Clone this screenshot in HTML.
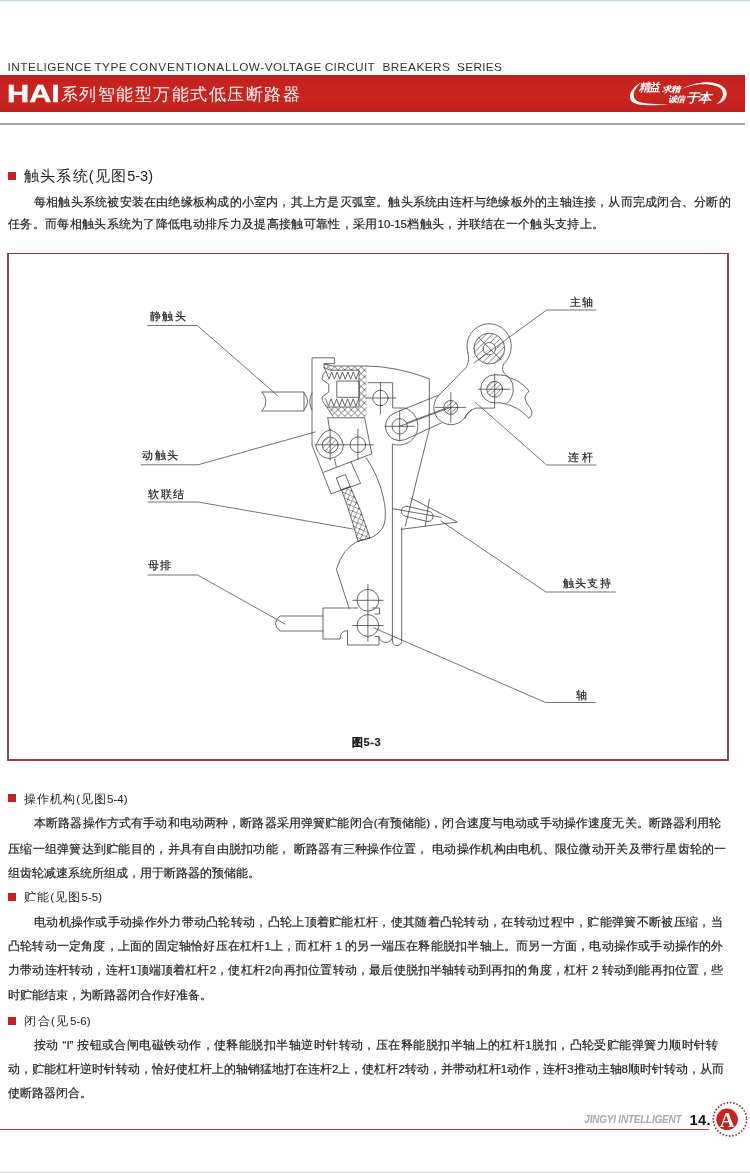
<!DOCTYPE html>
<html lang="zh">
<head>
<meta charset="utf-8">
<title>HAI系列智能型万能式低压断路器</title>
<style>
html,body{margin:0;padding:0;}
body{width:750px;height:1173px;position:relative;overflow:hidden;background:#fff;font-family:"Liberation Sans",sans-serif;color:#2b2b2b;}
.abs{position:absolute;}
.edge{position:absolute;left:0;width:750px;height:2px;background:#d3e3ea;}
.en{position:absolute;left:8px;top:58.9px;width:495px;height:16px;line-height:16px;font-size:11.8px;color:#333;white-space:nowrap;}
.en span{position:absolute;top:0;}
.banner{position:absolute;left:0;top:74.7px;width:744.5px;height:36.9px;background:linear-gradient(#bf2020,#cb231d 40%,#cb231d 60%,#bf2020);}
.gline{position:absolute;left:0;top:122.8px;width:744.5px;height:1.9px;background:#a3a3a3;}
.hai{position:absolute;left:7px;top:81.5px;height:24px;line-height:24px;font-size:24.2px;font-weight:bold;color:#fff;-webkit-text-stroke:0.45px #fff;transform-origin:0 50%;transform:scaleX(1.27);white-space:nowrap;}
.title{position:absolute;left:61px;top:81.5px;width:238.5px;height:24px;line-height:24px;font-size:16.5px;color:#fff;white-space:nowrap;text-align:justify;text-align-last:justify;}
.sq{position:absolute;left:8px;width:8px;height:8px;background:#c8201f;}
.h1{position:absolute;left:24px;height:18px;line-height:18px;font-size:14.5px;color:#222;white-space:nowrap;text-align:justify;text-align-last:justify;}
.h2{position:absolute;left:24px;height:16px;line-height:16px;font-size:11.5px;color:#222;white-space:nowrap;text-align:justify;text-align-last:justify;}
.ln{position:absolute;height:16px;line-height:16px;font-size:11.5px;color:#222;-webkit-text-stroke:0.18px #222;white-space:nowrap;text-align:justify;text-align-last:justify;}
.box{position:absolute;left:7px;top:252.6px;width:718.2px;height:505.5px;border-style:solid;border-width:1.7px 2.1px 2px 2px;border-color:#aa2a33 #a3444b #a63a42 #93484f;}
.lab{position:absolute;height:14px;line-height:14px;font-size:11px;color:#1c1c1c;white-space:nowrap;text-align:justify;text-align-last:justify;-webkit-text-stroke:0.2px #1c1c1c;}
.fline{position:absolute;left:0;top:1128.6px;width:709px;height:1.3px;background:#c23a35;}
.jy{position:absolute;left:584.3px;top:1113px;width:98px;height:14px;line-height:14px;font-size:10px;font-style:italic;font-weight:bold;color:#a9a9a9;white-space:nowrap;letter-spacing:-0.22px;}
.pg{position:absolute;left:689.5px;top:1110px;height:20px;line-height:20px;font-size:14.6px;font-weight:bold;color:#111;white-space:nowrap;letter-spacing:0.4px;}
</style>
</head>
<body>
<div id="pg" style="position:absolute;left:0;top:0;width:750px;height:1173px;will-change:transform">
<div class="edge" style="top:0;height:5px;background:linear-gradient(#c8d5da 0,#cfdbe0 1px,#f1f8fb 1.3px,#fff 5px)"></div>
<div class="edge" style="top:1170.6px;height:2.4px;background:linear-gradient(#fff 0,#e8f1f3 1px,#c5d9de 1.3px,#c5d9de 2.4px)"></div>

<div class="en"><span style="left:-0.6px;letter-spacing:0.54px">INTELIGENCE</span> <span style="left:86.4px;letter-spacing:0.5px">TYPE</span> <span style="left:121.8px;letter-spacing:0.78px">CONVENTIONAL</span> <span style="left:224.2px;letter-spacing:0.47px">LOW-VOLTAGE</span> <span style="left:316.7px;letter-spacing:0.38px">CIRCUIT</span> <span style="left:374.5px;letter-spacing:0.44px">BREAKERS</span> <span style="left:449.1px;letter-spacing:0.28px">SERIES</span></div>
<div class="banner"></div>
<div class="gline"></div>
<div class="hai">HAI</div>
<svg class="abs" style="left:620px;top:74px" width="125" height="38" viewBox="620 74 125 38">
<g fill="#fff" font-family="'Liberation Serif',serif" font-weight="bold" font-style="italic">
<path d="M641.5,82.5C630,88 626.5,99 634,103C640,106 655,105.5 669,104.2C655,104.4 642,103.8 636.8,100.8C631.5,97.5 633,89 641.5,82.5Z"/>
<path d="M682,88.8C692,83.4 706,80.8 716,83.3C726.5,86 729.5,94 724.5,99.8C722,102.3 719.5,103.6 716.5,104.2C721,101 724.3,95.5 722.3,90.8C720,85.3 708,83.2 698,84.6C691,85.6 686,87.2 682,88.8Z"/>
<text x="638.5" y="91.3" font-size="11.2" textLength="21.5" lengthAdjust="spacingAndGlyphs">精益</text>
<text x="662" y="91.6" font-size="8.4" textLength="18" lengthAdjust="spacingAndGlyphs">求精</text>
<text x="667.5" y="101.6" font-size="8.4" textLength="17" lengthAdjust="spacingAndGlyphs">诚信</text>
<text x="685.5" y="102.2" font-size="12.4" textLength="25.8" lengthAdjust="spacingAndGlyphs">于本</text>
</g></svg>
<div class="title">系列智能型万能式低压断路器</div>

<!-- section 1 -->
<div class="sq" style="top:172px"></div>
<div class="h1" style="top:167px;width:129px">触头系统(见图5-3)</div>
<div class="ln" style="left:34px;top:194px;width:696.5px">每相触头系统被安装在由绝缘板构成的小室内，其上方是灭弧室。触头系统由连杆与绝缘板外的主轴连接，从而完成闭合、分断的</div>
<div class="ln" style="left:8px;top:216px;width:596px">任务。而每相触头系统为了降低电动排斥力及提高接触可靠性，采用10-15档触头，并联结在一个触头支持上。</div>

<div class="box"></div>
<!--DIAGRAM-->
<svg class="abs" style="left:0;top:0" width="750" height="1173" viewBox="0 0 750 1173" fill="none" stroke="#444" stroke-width="0.8" stroke-linecap="round" stroke-linejoin="round">
<defs>
<pattern id="xh" width="6.6" height="6.6" patternUnits="userSpaceOnUse" patternTransform="translate(1.5 0.5)"><path d="M0,0L6.6,6.6M6.6,0L0,6.6" stroke="#444" stroke-width="0.7"/></pattern>
<pattern id="xs" width="6.4" height="6.4" patternUnits="userSpaceOnUse" patternTransform="rotate(-22 350 510)"><path d="M0,0L6.4,6.4M6.4,0L0,6.4" stroke="#444" stroke-width="0.7"/></pattern>
<pattern id="dh" width="6.2" height="6.2" patternUnits="userSpaceOnUse" patternTransform="translate(2 0)"><path d="M-1,1L1,-1M0,6.2L6.2,0M5.2,7.2L7.2,5.2" stroke="#444" stroke-width="0.7"/></pattern>
<pattern id="dh2" width="5.2" height="5.2" patternUnits="userSpaceOnUse" patternTransform="translate(1 0)"><path d="M-1,1L1,-1M0,5.2L5.2,0M4.2,6.2L6.2,4.2" stroke="#444" stroke-width="0.65"/></pattern>
</defs>
<g stroke-width="0.75">
<path d="M147.8,325.5H197.3L278,396"/>
<path d="M141,464.8H198L315,432"/>
<path d="M147.8,502H198L353,529"/>
<path d="M147.8,575H197.5L285,624"/>
<path d="M596,310H546.6L474,363"/>
<path d="M596,465H546.6L475,402"/>
<path d="M615.5,592H546L441,521"/>
<path d="M595,702.5H545.5L374,628"/>
</g>
<path d="M262,392H304V411H262M262,392Q270,401.5 262,411"/>
<path d="M304,393Q311.5,401.5 304,410M312,393Q307.5,401.5 312,410"/>
<path d="M312,445V357.8H334.4V363.7H324.1V367.4L326,371.5Q321.5,374 322.7,378.5V380L328.8,384.2V392.1L322.3,396.8V400.5L333,416.4"/>
<path fill="url(#xh)" stroke="none" fill-rule="evenodd" d="M324.1,363.7L332,366H366.6V416.4H333L322.3,400.5L327.4,407H359V370.2H330L324.1,367.4Z"/>
<path d="M324.1,363.7L332,366H366.6M324.1,367.4L330,370.2H359V407H327.4"/>
<path d="M326.3,372L329,379.2L331.7,372L334.4,379.2L337.1,372L339.8,379.2L342.5,372L345.2,379.2L347.9,372L350.6,379.2L353.3,372L356,379.2L358.7,372"/>
<path d="M325.6,398.8L328.4,406.2L331.1,398.8L333.9,406.2L336.6,398.8L339.4,406.2L342.1,398.8L344.9,406.2L347.7,398.8L350.4,406.2L353.2,398.8L355.9,406.2L358.7,398.8"/>
<rect x="337.2" y="381" width="21.9" height="16.3"/>
<path d="M366.6,366Q396,366.2 429.3,378.7V429L405.3,526"/>
<circle cx="380.4" cy="398" r="7.7"/>
<path d="M366,398H396M380.4,382.7V414M368,382.7H392.7V408H405.2A18.8,18.8 0 1 1 392.4,444V640"/>
<circle cx="399.7" cy="426.3" r="7.7"/>
<path d="M438.2,395.3L394.6,412.9A14.3,14.3 0 1 0 404.8,439.7L441.2,423"/>
<path d="M385,426.3H414.5M399.7,411V441M399.7,426.3L450.8,407.4M407,422.9L444.8,408.6"/>
<path fill="url(#dh)" fill-rule="evenodd" d="M473.9,348.6a15.4,15.4 0 1 0 30.8,0a15.4,15.4 0 1 0 -30.8,0ZM483.1,348.6a6.2,6.2 0 1 0 12.4,0a6.2,6.2 0 1 0 -12.4,0Z"/>
<path d="M478.6,337.4L501,359.8"/>
<circle cx="494.65" cy="389.2" r="7.9" fill="url(#dh2)"/>
<circle cx="450.8" cy="407.4" r="7" fill="url(#dh2)"/>
<path d="M435.4,407.4H465.8M450.8,392.6V422.2M478.3,389.2H509.8M494.65,374V408.1H475.7Q468,411 465,418.3"/>
<path d="M467.9,352.6A22.2,22.2 0 1 1 510.9,350Q510.5,356.5 503.9,363.9Q500.5,369.5 505.5,374.5Q508,377.5 510.9,378.3Q521,381 529,391L525.3,395.9Q524,400.5 530,407.6Q534.5,413.5 529,418.3Q517,405 500.2,402.8L494.65,403"/>
<path d="M467.9,352.6Q470,362 465.8,367.8L438.7,395.5A17.0,17.0 0 1 0 463.4,419.4Q468,412 471.4,409.4"/>
<path d="M494.65,403A14,14 0 0 1 480.7,389.2A14.2,14.4 0 0 1 494.65,374.8Q507.5,374.8 509.8,377.9A19.2,19.2 0 0 1 507.1,403.3"/>
<path d="M327.8,417.8H364.6L371.8,453.8L323.8,472.2M327.8,417.8L329.5,430M312,445L331,493.8L360.6,483.4L351,461.8"/>
<path d="M330.1,429.7Q341,433 343.4,445.2Q343,456 330.1,458.5Q321.5,458 318.6,452.5Q316,449 315.7,445.2L322,434.5Q325.5,431 330.1,429.7Z"/>
<circle cx="330.2" cy="445" r="8" fill="url(#dh2)"/>
<circle cx="357.9" cy="444.7" r="7.8"/>
<path d="M315,444.8H373.4M330.2,429V460.2M357.9,429V459.4M334.7,459.4L336.3,466.6"/>
<path d="M336.6,477.8L345.4,474.6L350.2,486.6L341.4,489.8Z"/>
<path fill="url(#xs)" d="M341.4,489.8L350.2,486.6Q362,512 370,538L358,541.2Q350,512 341.4,489.8Z"/>
<path d="M366.2,457.8Q378,475 383,496Q387,512 384.4,523.6Q381,534 370,538L358,541.2Q343,548 336.4,569.2L349.2,608.4"/>
<path d="M323,616H280Q271,623.5 280,631H323"/>
<path d="M357.5,608H323V639H340Q340,630.7 347.5,630.7V645H379V636.5H375M372,608H379.5V614H375M379,637.6Q380.5,642.4 385.9,642.4Q392,642 392.5,636.5"/>
<circle cx="367.9" cy="600.3" r="10.9"/><circle cx="367.9" cy="625.5" r="10.9"/>
<path d="M367.9,584.3V641.3M352.8,600.3H383.2M352.8,625.5H383.2"/>
<path d="M392.4,640Q392.4,645.6 397.05,645.6Q401.7,645.6 401.7,640V527.6"/>
<path d="M410.7,498L457.3,522L401.3,529.3"/>
<path d="M407.3,506.3L428.9,511.4A5,5 0 0 1 427.1,521.4L405.5,516.3A5,5 0 0 1 407.3,506.3Z"/>
<path d="M392.5,508.7L441.3,517.3M429.3,499.3L425.3,526"/>
</svg>
<!--/DIAGRAM-->

<div class="lab" style="left:150px;top:308.6px;width:35.5px">静触头</div>
<div class="lab" style="left:142px;top:447.9px;width:36px">动触头</div>
<div class="lab" style="left:148.3px;top:486.6px;width:35.5px">软联结</div>
<div class="lab" style="left:148.3px;top:557.8px;width:23px">母排</div>
<div class="lab" style="left:570.2px;top:295px;width:23.2px">主轴</div>
<div class="lab" style="left:568px;top:450px;width:24.5px">连杆</div>
<div class="lab" style="left:562.5px;top:575.8px;width:48px">触头支持</div>
<div class="lab" style="left:576px;top:688px;width:13px">轴</div>
<div class="lab" style="left:352px;top:734.5px;width:34px;font-weight:bold;font-size:11px;text-align-last:left;letter-spacing:0.6px">图5-3</div>

<!-- section 2 -->
<div class="sq" style="top:794px"></div>
<div class="h2" style="top:790.7px;width:103.5px">操作机构(见图5-4)</div>
<div class="ln" style="left:34px;top:815px;width:687.5px">本断路器操作方式有手动和电动两种，断路器采用弹簧贮能闭合(有预储能)，闭合速度与电动或手动操作速度无关。断路器利用轮</div>
<div class="ln" style="left:8px;top:840.6px;width:718.5px">压缩一组弹簧达到贮能目的，并具有自由脱扣功能， 断路器有三种操作位置， 电动操作机构由电机、限位微动开关及带行星齿轮的一</div>
<div class="ln" style="left:8px;top:865px;width:252px">组齿轮减速系统所组成，用于断路器的预储能。</div>

<!-- section 3 -->
<div class="sq" style="top:893px"></div>
<div class="h2" style="top:889px;width:78px">贮能(见图5-5)</div>
<div class="ln" style="left:34px;top:914px;width:688.5px">电动机操作或手动操作外力带动凸轮转动，凸轮上顶着贮能杠杆，使其随着凸轮转动，在转动过程中，贮能弹簧不断被压缩，当</div>
<div class="ln" style="left:8px;top:938px;width:715.5px">凸轮转动一定角度，上面的固定轴恰好压在杠杆1上，而杠杆 1 的另一端压在释能脱扣半轴上。而另一方面，电动操作或手动操作的外</div>
<div class="ln" style="left:8px;top:962px;width:715.5px">力带动连杆转动，连杆1顶端顶着杠杆2，使杠杆2向再扣位置转动，最后使脱扣半轴转动到再扣的角度，杠杆 2 转动到能再扣位置，些</div>
<div class="ln" style="left:8px;top:987px;width:204px">时贮能结束，为断路器闭合作好准备。</div>

<!-- section 4 -->
<div class="sq" style="top:1017px"></div>
<div class="h2" style="top:1013px;width:66.5px">闭合(见5-6)</div>
<div class="ln" style="left:34px;top:1037px;width:684.5px">按动 “I” 按钮或合闸电磁铁动作，使释能脱扣半轴逆时针转动，压在释能脱扣半轴上的杠杆1脱扣，凸轮受贮能弹簧力顺时针转</div>
<div class="ln" style="left:8px;top:1061px;width:715.5px">动，贮能杠杆逆时针转动，恰好使杠杆上的轴销猛地打在连杆2上，使杠杆2转动，并带动杠杆1动作，连杆3推动主轴8顺时针转动，从而</div>
<div class="ln" style="left:8px;top:1085px;width:80px">使断路器闭合。</div>

<!-- footer -->
<div class="fline"></div>
<div class="jy">JINGYI INTELLIGENT</div>
<div class="pg">14.</div>
<svg class="abs" style="left:705px;top:1098px" width="45" height="44" viewBox="705 1098 45 44">
<circle cx="729.9" cy="1119.3" r="16.7" fill="none" stroke="#9a262c" stroke-width="1.8" stroke-dasharray="0.01 3.28" stroke-linecap="round"/>
<circle cx="727.1" cy="1119.3" r="10.8" fill="#c8231d"/>
<text x="727.1" y="1126.9" font-family="'Liberation Serif',serif" font-weight="bold" font-size="20.5" fill="#fff" text-anchor="middle">A</text>
</svg>

</div>
</body>
</html>
